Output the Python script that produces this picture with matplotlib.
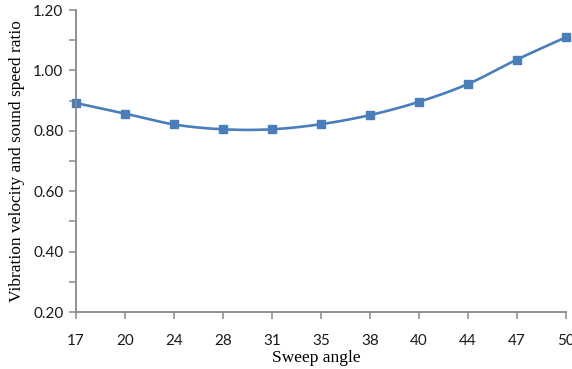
import numpy as np
import matplotlib
matplotlib.use('Agg')
import matplotlib.pyplot as plt
from matplotlib.ticker import MultipleLocator, FixedLocator

# Data
angles = ['17', '20', '24', '28', '31', '35', '38', '40', '44', '47', '50']
ratio = [0.892, 0.857, 0.821, 0.805, 0.805, 0.822, 0.852, 0.896, 0.955, 1.036, 1.110]

line_color = '#4A7EBB'
axis_color = '#898989'


def smooth(x, y, n=30):
    # Catmull-Rom style smoothing like an Excel "smoothed line"
    x = np.asarray(x, float)
    y = np.asarray(y, float)
    px = np.concatenate([[x[0]], x, [x[-1]]])
    py = np.concatenate([[y[0]], y, [y[-1]]])
    xs, ys = [], []
    t = np.linspace(0, 1, n)
    for i in range(1, len(px) - 2):
        p0, p1, p2, p3 = (np.array([px[j], py[j]]) for j in (i - 1, i, i + 1, i + 2))
        c1 = p1 + (p2 - p0) / 6
        c2 = p2 - (p3 - p1) / 6
        b = ((1 - t) ** 3)[:, None] * p1 + (3 * (1 - t) ** 2 * t)[:, None] * c1 \
            + (3 * (1 - t) * t ** 2)[:, None] * c2 + (t ** 3)[:, None] * p2
        xs.extend(b[:, 0])
        ys.extend(b[:, 1])
    return np.array(xs), np.array(ys)


fig = plt.figure(figsize=(5.72, 3.69), dpi=100)
ax = fig.add_axes([76 / 572, 1 - 312 / 369, 490 / 572, 302 / 369])

pos = np.arange(len(angles))
sx, sy = smooth(pos, ratio)
ax.plot(sx, sy, color=line_color, lw=1.9, solid_capstyle='round', clip_on=False)
ax.plot(pos, ratio, ls='none', marker='s', ms=5.8, color=line_color, clip_on=False)

ax.set_xlim(0, len(angles) - 1)
ax.set_ylim(0.2, 1.2)
ax.set_xticks(pos)
ax.set_xticklabels(angles)
ax.yaxis.set_major_locator(MultipleLocator(0.2))
ax.yaxis.set_minor_locator(FixedLocator([0.3, 0.5, 0.7, 0.9, 1.1]))
ax.set_yticklabels([f'{v:.2f}' for v in ax.get_yticks()])

for s in ['top', 'right']:
    ax.spines[s].set_visible(False)
for s in ['left', 'bottom']:
    ax.spines[s].set_color(axis_color)
    ax.spines[s].set_linewidth(1.3)

ax.tick_params(axis='both', which='both', direction='out', color=axis_color, width=1.1,
               labelsize=11, labelcolor='#1a1a1a')
ax.tick_params(axis='x', length=5, pad=11)
ax.tick_params(axis='y', which='major', length=5, pad=4)
ax.tick_params(axis='y', which='minor', length=5)
for lab in ax.get_xticklabels() + ax.get_yticklabels():
    lab.set_family('Lato')

ax.set_xlabel('Sweep angle', family='Liberation Serif', fontsize=12.5, labelpad=0)
ax.xaxis.set_label_coords(0.49, -0.125)
ax.set_ylabel('Vibration velocity and sound speed ratio', family='Liberation Serif',
              fontsize=12.5, labelpad=6)

fig.savefig('out.png', dpi=100)
